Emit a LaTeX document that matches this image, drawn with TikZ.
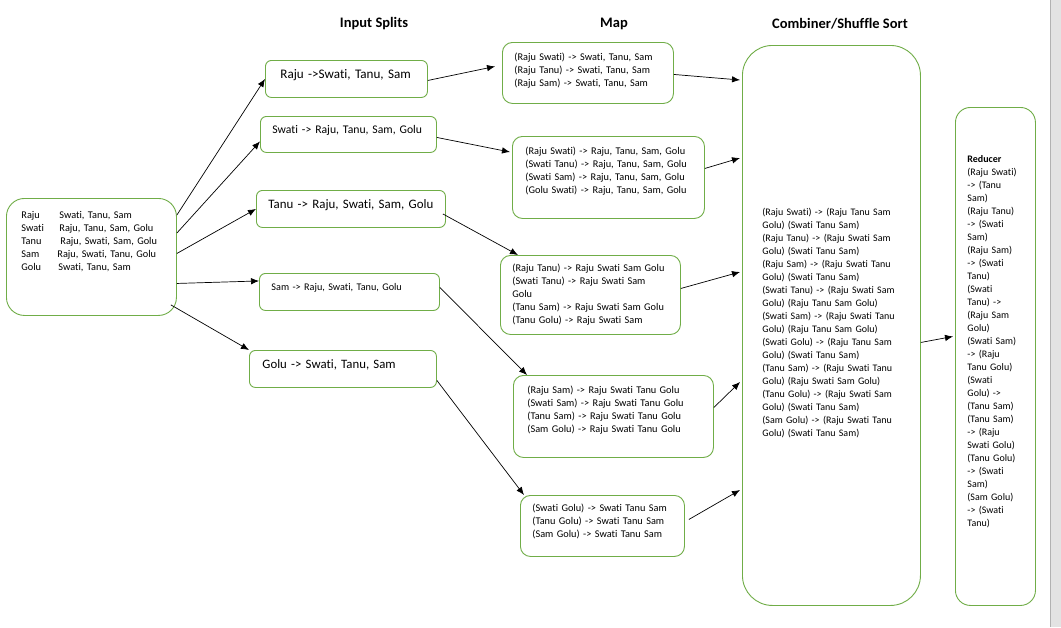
\documentclass[tikz,border=0pt]{standalone}
\usepackage{fontspec}
\setmainfont{Carlito}[Ligatures={NoCommon}]
\usetikzlibrary{arrows.meta}
\definecolor{boxgreen}{HTML}{70AD47}
\tikzset{
  stage/.style={draw=boxgreen, line width=0.9pt, anchor=north west, align=left,
    inner xsep=12pt, inner ysep=0pt, rounded corners=10pt,
    font=\fontsize{10.3}{13}\selectfont},
  splitbox/.style={stage, rounded corners=6pt, text depth=10.5pt},
  heading/.style={font=\bfseries\fontsize{14.5}{16}\selectfont},
  flow/.style={-{Latex[length=8pt,width=6.5pt]}, line width=0.7pt},
}
\begin{document}
\begin{tikzpicture}[x=1pt,y=-1pt]
\useasboundingbox (0,0) rectangle (1061,627);
\fill[white] (0,0) rectangle (1061,627);
\fill[black!11] (1050,0) rectangle (1061,627);
\draw[black!30] (1050.5,0) -- (1050.5,627);

% headings
\node[heading] (hsplit) at (374,24) {Input Splits};
\node[heading] (hmap) at (614,24) {Map};
\node[heading] (hcomb) at (840,24) {Combiner/Shuffle Sort};

% input
\node[stage, rounded corners=18pt, inner xsep=15pt, minimum width=170pt, minimum height=117pt,
  text width=140pt, text depth=84.5pt] (input) at (6,198)
  {\makebox[38pt][l]{Raju}Swati, Tanu, Sam\\
   \makebox[38pt][l]{Swati}Raju, Tanu, Sam, Golu\\
   \makebox[39pt][l]{Tanu}Raju, Swati, Sam, Golu\\
   \makebox[36pt][l]{Sam}Raju, Swati, Tanu, Golu\\
   \makebox[37pt][l]{Golu}Swati, Tanu, Sam};

% input splits
\node[splitbox, inner xsep=15pt, minimum width=162pt, minimum height=37pt, text width=132pt,
  font=\fontsize{13.1}{15}\selectfont] (split1) at (265,60) {Raju ->Swati, Tanu, Sam};
\node[splitbox, minimum width=176pt, minimum height=36pt, text width=152pt,
  font=\fontsize{11.7}{14}\selectfont] (split2) at (260,116) {Swati -> Raju, Tanu, Sam, Golu};
\node[splitbox, minimum width=189pt, minimum height=37pt, text width=165pt,
  font=\fontsize{12.9}{15}\selectfont] (split3) at (256,190) {Tanu -> Raju, Swati, Sam, Golu};
\node[splitbox, minimum width=180pt, minimum height=37pt, text width=156pt,
  font=\fontsize{10.2}{13}\selectfont] (split4) at (259,273) {Sam -> Raju, Swati, Tanu, Golu};
\node[splitbox, inner xsep=13pt, minimum width=187pt, minimum height=37pt, text width=161pt,
  font=\fontsize{12.8}{15}\selectfont] (split5) at (249,350) {Golu -> Swati, Tanu, Sam};

% map
\node[stage, minimum width=171pt, minimum height=61pt, text width=147pt, text depth=32.5pt] (map1) at (502,42)
  {(Raju Swati) -> Swati, Tanu, Sam\\
   (Raju Tanu) -> Swati, Tanu, Sam\\
   (Raju Sam) -> Swati, Tanu, Sam};
\node[stage, inner xsep=13pt, minimum width=192pt, minimum height=82pt, text width=166pt, text depth=53.5pt] (map2) at (512,136)
  {(Raju Swati) -> Raju, Tanu, Sam, Golu\\
   (Swati Tanu) -> Raju, Tanu, Sam, Golu\\
   (Swati Sam) -> Raju, Tanu, Sam, Golu\\
   (Golu Swati) -> Raju, Tanu, Sam, Golu};
\node[stage, minimum width=180pt, minimum height=79pt, text width=156pt] (map3) at (500,255)
  {(Raju Tanu) -> Raju Swati Sam Golu\\
   (Swati Tanu) -> Raju Swati Sam\\
   Golu\\
   (Tanu Sam) -> Raju Swati Sam Golu\\
   (Tanu Golu) -> Raju Swati Sam};
\node[stage, inner xsep=14pt, minimum width=200pt, minimum height=82pt, text width=172pt, text depth=53.5pt] (map4) at (513,375)
  {(Raju Sam) -> Raju Swati Tanu Golu\\
   (Swati Sam) -> Raju Swati Tanu Golu\\
   (Tanu Sam) -> Raju Swati Tanu Golu\\
   (Sam Golu) -> Raju Swati Tanu Golu};
\node[stage, minimum width=164pt, minimum height=61pt, text width=140pt, text depth=36.5pt] (map5) at (520,495)
  {(Swati Golu) -> Swati Tanu Sam\\
   (Tanu Golu) -> Swati Tanu Sam\\
   (Sam Golu) -> Swati Tanu Sam};

% combiner / shuffle sort
\node[stage, rounded corners=30pt, inner xsep=20pt, minimum width=178pt, minimum height=560pt,
  text width=138pt, text depth=227.5pt, font=\fontsize{10}{13}\selectfont] (comb) at (742,45)
  {(Raju Swati) -> (Raju Tanu Sam\\ Golu) (Swati Tanu Sam)\\
   (Raju Tanu) -> (Raju Swati Sam\\ Golu) (Swati Tanu Sam)\\
   (Raju Sam) -> (Raju Swati Tanu\\ Golu) (Swati Tanu Sam)\\
   (Swati Tanu) -> (Raju Swati Sam\\ Golu) (Raju Tanu Sam Golu)\\
   (Swati Sam) -> (Raju Swati Tanu\\ Golu) (Raju Tanu Sam Golu)\\
   (Swati Golu) -> (Raju Tanu Sam\\ Golu) (Swati Tanu Sam)\\
   (Tanu Sam) -> (Raju Swati Tanu\\ Golu) (Raju Swati Sam Golu)\\
   (Tanu Golu) -> (Raju Swati Sam\\ Golu) (Swati Tanu Sam)\\
   (Sam Golu) -> (Raju Swati Tanu\\ Golu) (Swati Tanu Sam)};

% reducer
\node[stage, rounded corners=15pt, minimum width=80pt, minimum height=498pt,
  text width=56pt, text depth=394.5pt, font=\fontsize{10}{13}\selectfont] (red) at (955,107)
  {\textbf{Reducer}\\
   (Raju Swati)\\ -> (Tanu\\ Sam)\\
   (Raju Tanu)\\ -> (Swati\\ Sam)\\
   (Raju Sam)\\ -> (Swati\\ Tanu)\\
   (Swati\\ Tanu) ->\\ (Raju Sam\\ Golu)\\
   (Swati Sam)\\ -> (Raju\\ Tanu Golu)\\
   (Swati\\ Golu) ->\\ (Tanu Sam)\\
   (Tanu Sam)\\ -> (Raju\\ Swati Golu)\\
   (Tanu Golu)\\ -> (Swati\\ Sam)\\
   (Sam Golu)\\ -> (Swati\\ Tanu)};

% input -> splits
\draw[flow] ([yshift=-17pt]input.north east) -- (split1.west);
\draw[flow] ([yshift=-35pt]input.north east) -- ([yshift=-7pt]split2.west);
\draw[flow] ([yshift=3.5pt]input.east) -- (split3.west);
\draw[flow] ([yshift=-26.5pt]input.east) -- ([yshift=11pt]split4.west);
\draw[flow] ([xshift=-6pt,yshift=11pt]input.south east) -- (split5.north west);
% splits -> map
\draw[flow] ([yshift=-1.5pt]split1.east) -- ([xshift=-7pt,yshift=6.5pt]map1.west);
\draw[flow] ([yshift=-3pt]split2.east) -- ([xshift=-2pt,yshift=-16pt]map2.north west);
\draw[flow] ([xshift=-3pt,yshift=-5pt]split3.east) -- ([xshift=18pt]map3.north west);
\draw[flow] ([yshift=4.5pt]split4.east) -- ([xshift=14pt]map4.north west);
\draw[flow] ([yshift=-11.5pt]split5.east) -- ([xshift=4pt]map5.north west);
% map -> combiner
\draw[flow] ([yshift=-1.5pt]map1.east) -- ([xshift=-2pt,yshift=-35pt]comb.north west);
\draw[flow] ([yshift=9pt]map2.east) -- ([xshift=-2pt,yshift=-113pt]comb.north west);
\draw[flow] ([yshift=6.5pt]map3.east) -- ([xshift=-2pt,yshift=-227pt]comb.north west);
\draw[flow] ([yshift=9pt]map4.east) -- ([xshift=-2pt,yshift=-337pt]comb.north west);
\draw[flow] ([xshift=4pt,yshift=6.5pt]map5.east) -- ([xshift=-2pt,yshift=-445pt]comb.north west);
% combiner -> reducer
\draw[flow] ([yshift=-17pt]comb.east) -- ([xshift=-2pt,yshift=20pt]red.west);
\end{tikzpicture}
\end{document}
